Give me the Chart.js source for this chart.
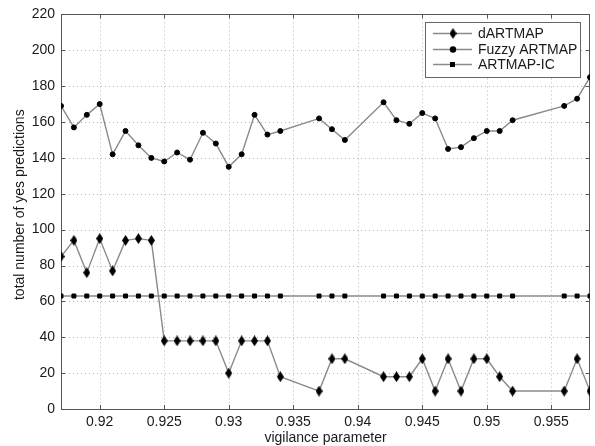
<!DOCTYPE html>
<html>
<head>
<meta charset="utf-8">
<script src="https://cdn.jsdelivr.net/npm/chart.js@4.4.1/dist/chart.umd.min.js"></script>
<style>
html,body{margin:0;padding:0;background:#fff;}
#c{display:block;}
</style>
</head>
<body>
<canvas id="c" width="595" height="446"></canvas>
<script>
// ---- data ----
const vigilance = [0.917,0.918,0.919,0.920,0.921,0.922,0.923,0.924,0.925,0.926,0.927,0.928,0.929,0.930,0.931,0.932,0.933,0.934,
                   0.937,0.938,0.939,
                   0.942,0.943,0.944,0.945,0.946,0.947,0.948,0.949,0.950,0.951,0.952,
                   0.956,0.957,0.958];
const dARTMAP = [85,94,76,95,77,94,95,94,38,38,38,38,38,20,38,38,38,18,
                 10,28,28,
                 18,18,18,28,10,28,10,28,28,18,10,
                 10,28,10];
const fuzzyARTMAP = [169,157,164,170,142,155,147,140,138,143,139,154,148,135,142,164,153,155,
                     162,156,150,
                     171,161,159,165,162,145,146,151,155,155,161,
                     169,173,185];
const artmapIC = [63,63,63,63,63,63,63,63,63,63,63,63,63,63,63,63,63,63,
                  63,63,63,
                  63,63,63,63,63,63,63,63,63,63,63,
                  63,63,63];
const seriesNames = ['dARTMAP','Fuzzy ARTMAP','ARTMAP-IC'];
const xTicks = [0.92,0.925,0.93,0.935,0.94,0.945,0.95,0.955];
const xTickLabels = ['0.92','0.925','0.93','0.935','0.94','0.945','0.95','0.955'];
const yTicks = [0,20,40,60,80,100,120,140,160,180,200,220];
const xTitle = 'vigilance parameter';
const yTitle = 'total number of yes predictions';

// ---- styles ----
const FONT = '"Liberation Sans", Arial, Helvetica, sans-serif';
const LINE = '#8a8a8a';
const TXT = '#1a1a1a';
function makeDiamond(w,h){
  const c=document.createElement('canvas'); c.width=w; c.height=h;
  const g=c.getContext('2d'); g.fillStyle='#000';
  g.beginPath(); g.moveTo(w/2,0); g.lineTo(w,h/2); g.lineTo(w/2,h); g.lineTo(0,h/2); g.closePath(); g.fill();
  return c;
}
const diamond = makeDiamond(7,11);

function pts(ys){ return vigilance.map((x,i)=>({x:x,y:ys[i]})); }

const common = {borderColor:LINE, borderWidth:1.4, pointBackgroundColor:'#000', pointBorderColor:'#000', pointBorderWidth:1, tension:0, fill:false};

const frame = {
  id:'frame',
  beforeDatasetsDraw(chart){
    const {ctx, chartArea:a, scales:{x,y}} = chart;
    ctx.save();
    ctx.strokeStyle='#b5b5b5'; ctx.lineWidth=1; ctx.setLineDash([1,3]);
    xTicks.forEach(v=>{ const px=Math.round(x.getPixelForValue(v))+0.5;
      ctx.beginPath(); ctx.moveTo(px,a.top); ctx.lineTo(px,a.bottom); ctx.stroke(); });
    yTicks.forEach(v=>{ if(v===yTicks[0]||v===yTicks[yTicks.length-1]) return;
      const py=Math.round(y.getPixelForValue(v))+0.5;
      ctx.beginPath(); ctx.moveTo(a.left,py); ctx.lineTo(a.right,py); ctx.stroke(); });
    ctx.setLineDash([]);
    ctx.strokeStyle='#555'; ctx.lineWidth=1;
    ctx.strokeRect(Math.round(a.left)+0.5, Math.round(a.top)+0.5, Math.round(a.right-a.left)-1, Math.round(a.bottom-a.top));
    // inward tick marks
    ctx.beginPath();
    xTicks.forEach(v=>{ const px=Math.round(x.getPixelForValue(v))+0.5;
      ctx.moveTo(px,a.bottom); ctx.lineTo(px,a.bottom-4);
      ctx.moveTo(px,a.top); ctx.lineTo(px,a.top+4); });
    yTicks.forEach(v=>{ const py=Math.round(y.getPixelForValue(v))+0.5;
      ctx.moveTo(a.left,py); ctx.lineTo(a.left+4,py);
      ctx.moveTo(a.right,py); ctx.lineTo(a.right-4,py); });
    ctx.stroke();
    ctx.restore();
  },
  afterDraw(chart){
    const {ctx, chartArea:a} = chart;
    ctx.save();
    ctx.fillStyle=TXT; ctx.font='14px '+FONT;
    ctx.textAlign='center'; ctx.textBaseline='middle';
    ctx.fillText(xTitle,(a.left+a.right)/2,438);
    ctx.translate(20,(a.top+a.bottom)/2-7); ctx.rotate(-Math.PI/2);
    ctx.fillText(yTitle,0,0);
    ctx.restore();
    // legend
    ctx.save();
    const lx=425, ly=22, lw=155, lh=55;
    ctx.fillStyle='#fff'; ctx.fillRect(lx,ly,lw,lh);
    ctx.strokeStyle='#666'; ctx.lineWidth=1; ctx.strokeRect(lx+0.5,ly+0.5,lw,lh);
    const rows=[33,49,64];
    chart.data.datasets.forEach((ds,i)=>{
      const ry=rows[i]+0.5;
      ctx.strokeStyle=LINE; ctx.lineWidth=1.4;
      ctx.beginPath(); ctx.moveTo(433,ry); ctx.lineTo(472,ry); ctx.stroke();
      ctx.fillStyle='#000';
      if(i===0){ ctx.drawImage(diamond,453-diamond.width/2,ry-diamond.height/2); }
      else if(i===1){ ctx.beginPath(); ctx.arc(453,ry,3.2,0,Math.PI*2); ctx.fill(); }
      else { ctx.fillRect(450,ry-2.5,5,5); }
      ctx.fillStyle=TXT; ctx.font='14px '+FONT; ctx.textAlign='left'; ctx.textBaseline='middle';
      ctx.fillText(ds.label,478,ry+1);
    });
    ctx.restore();
  }
};

new Chart(document.getElementById('c'), {
  type:'line',
  data:{datasets:[
    Object.assign({label:seriesNames[0], data:pts(dARTMAP), pointStyle:diamond, pointRadius:4}, common),
    Object.assign({label:seriesNames[1], data:pts(fuzzyARTMAP), pointStyle:'circle', pointRadius:2.5}, common),
    Object.assign({label:seriesNames[2], data:pts(artmapIC), pointStyle:'rect', pointRadius:2.8}, common)
  ]},
  options:{
    responsive:false, animation:false, devicePixelRatio:1,
    layout:{padding:{top:14,right:4,left:0,bottom:0}},
    plugins:{legend:{display:false}, tooltip:{enabled:false}},
    scales:{
      x:{type:'linear', min:0.917, max:0.958,
        afterBuildTicks:s=>{ s.ticks = xTicks.map(v=>({value:v})); },
        afterFit:s=>{ s.height=37; },
        grid:{display:false, drawTicks:false}, border:{display:false},
        ticks:{autoSkip:false, maxRotation:0, padding:5, color:TXT, font:{family:FONT,size:14},
          callback:(v,i)=>xTickLabels[i]}},
      y:{type:'linear', min:0, max:220,
        afterBuildTicks:s=>{ s.ticks = yTicks.map(v=>({value:v})); },
        afterFit:s=>{ s.width=61; },
        grid:{display:false, drawTicks:false}, border:{display:false},
        ticks:{padding:6, color:TXT, font:{family:FONT,size:14}}}
    }
  },
  plugins:[frame]
});
</script>
</body>
</html>
